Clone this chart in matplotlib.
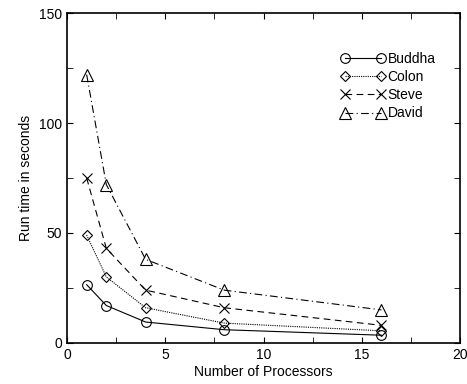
"""Run time vs number of processors"""

import matplotlib
matplotlib.use('Agg')
import matplotlib.pyplot as plt
from matplotlib.ticker import MultipleLocator

plt.rcParams['font.family'] = ['Liberation Sans', 'DejaVu Sans']

# Data
procs = [1, 2, 4, 8, 16]
buddha = [26.5, 17, 9.5, 6, 3.5]
colon = [49, 30, 16, 9, 5.5]
steve = [75, 43, 24, 16, 8]
david = [122, 72, 38, 24, 15]

fig = plt.figure(figsize=(4.67, 3.84), dpi=100)
ax = fig.add_axes([0.1435, 0.107, 0.8415, 0.859])

ms = 7
ax.plot(procs, buddha, color='black', lw=0.8, ls='-', marker='o', mfc='none', ms=ms, mew=0.8, label='Buddha')
ax.plot(procs, colon, color='black', lw=0.8, ls=(0, (1, 1)), marker='D', mfc='none', ms=5, mew=0.8, label='Colon')
ax.plot(procs, steve, color='black', lw=0.8, ls=(0, (6, 4)), marker='x', ms=ms, mew=0.8, label='Steve')
ax.plot(procs, david, color='black', lw=0.8, ls=(0, (7, 3, 1, 3)), marker='^', mfc='none', ms=8, mew=0.8, label='David')

ax.set_xlim(0, 20)
ax.set_ylim(0, 150)
ax.xaxis.set_major_locator(MultipleLocator(5))
ax.xaxis.set_minor_locator(MultipleLocator(2.5))
ax.yaxis.set_major_locator(MultipleLocator(50))
ax.yaxis.set_minor_locator(MultipleLocator(25))
ax.tick_params(which='both', direction='in', top=True, right=True, labelsize=10)
ax.tick_params(which='major', length=4)
ax.tick_params(which='minor', length=4)
for s in ax.spines.values():
    s.set_linewidth(1.2)

ax.set_xlabel('Number of Processors', fontsize=10, labelpad=2)
ax.set_ylabel('Run time in seconds', fontsize=10)

ax.legend(loc='upper right', bbox_to_anchor=(0.97, 0.92), frameon=False, numpoints=2,
          handlelength=3.2, fontsize=10, labelspacing=0.3, handletextpad=0.2)

fig.savefig('out.png', dpi=100)
